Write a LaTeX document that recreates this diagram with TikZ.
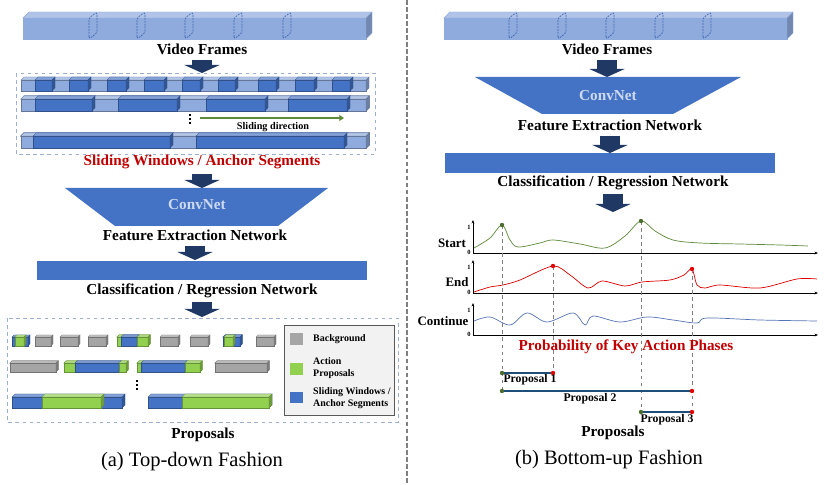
\documentclass[tikz,border=0pt]{standalone}
\usepackage{fontspec}
\setmainfont{Liberation Serif}
\usetikzlibrary{positioning,arrows.meta,calc}

\definecolor{lblue}{HTML}{8FAADC}
\definecolor{mblue}{HTML}{4472C4}
\definecolor{navy}{HTML}{203864}
\definecolor{pgreen}{HTML}{92D050}
\definecolor{pgray}{HTML}{A5A5A5}
\definecolor{dred}{HTML}{C00000}
\definecolor{boxline}{HTML}{9DB0D3}
\definecolor{sgreen}{HTML}{5E8A3A}
\definecolor{cblue}{HTML}{5574B4}
\definecolor{pline}{HTML}{1F4E79}

% box in 3D: x1 y1 x2 y2 colour depth
\newcommand{\blk}[6]{%
  \filldraw[fill=#5,draw=#5!70!black,line width=0.25pt] (#1,#2+#6) rectangle (#3-#6,#4);
  \filldraw[fill=#5!65!white,draw=#5!70!black,line width=0.25pt] (#1,#2+#6) -- (#1+#6,#2) -- (#3,#2) -- (#3-#6,#2+#6) -- cycle;
  \filldraw[fill=#5!75!black,draw=#5!70!black,line width=0.25pt] (#3-#6,#2+#6) -- (#3,#2) -- (#3,#4-#6) -- (#3-#6,#4) -- cycle;
}
% video frame bar with frame marks
\newcommand{\vbar}[2]{% x offset, list of frame centres
  \filldraw[fill=lblue,draw=lblue] (#1+23,18) rectangle (#1+366,39);
  \filldraw[fill=lblue!70!white,draw=lblue] (#1+23,18) -- (#1+29,12) -- (#1+372,12) -- (#1+366,18) -- cycle;
  \filldraw[fill=lblue!80!black,draw=lblue] (#1+366,18) -- (#1+372,12) -- (#1+372,33) -- (#1+366,39) -- cycle;
  \foreach \fx in {#2}
    \draw[mblue!90!black,dashed,dash pattern=on 1.5pt off 1pt,line width=0.6pt,rounded corners=2] (#1+\fx-4,39) -- (#1+\fx-4,18) -- (#1+\fx+4,12) -- (#1+\fx+4,33) -- cycle;
}

\tikzset{
  lbl/.style={font=\fontsize{13}{15}\selectfont\bfseries, inner sep=0pt},
  plbl/.style={font=\fontsize{11}{13}\selectfont\bfseries, inner sep=0pt},
  caption/.style={font=\fontsize{17.5}{20}\selectfont, inner sep=0pt},
  small/.style={font=\fontsize{8.5}{10.2}\selectfont\bfseries, inner sep=0pt, align=left},
  plabel/.style={font=\fontsize{10}{12}\selectfont\bfseries, inner sep=0pt},
  tick/.style={font=\fontsize{5.5}{6}\selectfont\bfseries, inner sep=0pt},
  bigarrow/.style={navy, line width=0.6cm, -{Triangle[length=0.24cm,width=1.05cm]}, shorten <=2.5pt},
  dashbox/.style={boxline, dashed, line width=0.6pt},
  axis/.style={black, line width=0.5pt, -{Stealth[length=3pt,width=2.4pt]}},
  guide/.style={gray, dashed, line width=0.4pt},
  propline/.style={pline, line width=1.6pt},
}

\begin{document}
\begin{tikzpicture}[x=0.03cm, y=-0.03cm]
\useasboundingbox (0,0) rectangle (830,485);

% divider
\draw[gray, dashed, line width=1.2pt, dash pattern=on 4pt off 2pt] (407,0) -- (407,485);

%%%%%%%%%% (a) top-down %%%%%%%%%%
\vbar{0}{93,141,189,238,287}
\node[lbl] (vfL) at (202,49) {Video Frames};
\coordinate (swTop) at (199,73);
\draw[bigarrow] ([yshift=-2pt]vfL.south) -- (vfL.south |- swTop);

\draw[dashbox] (16,73) rectangle (375,154);
\blk{21}{77}{369}{91}{lblue}{3}
\foreach \a/\b in {35/55,69/91,107/129,144/167,182/203,218/238,258/279,295/317,332/353}
  \blk{\a}{77}{\b}{91}{mblue}{3}
\blk{21}{96}{369}{111}{lblue}{3}
\foreach \a/\b in {35/95,118/180,206/268,288/350}
  \blk{\a}{96}{\b}{111}{mblue}{3}
\blk{21}{133}{369}{148}{lblue}{3}
\foreach \a/\b in {33/173,196/347}
  \blk{\a}{133}{\b}{148}{mblue}{3}
\foreach \d in {115,119,123} \fill (190,\d) circle (0.9);
\coordinate (slA) at (200,118);
\coordinate (slB) at (344,118);
\draw[sgreen, line width=1.3pt, -{Triangle[length=4pt,width=5pt]}] (slA) -- (slB);
\node[font=\fontsize{8.7}{10}\selectfont\bfseries, inner sep=0pt] (sldir) at (273,127) {Sliding direction};

\node[lbl, dred] (swL) at (202,162) {Sliding Windows / Anchor Segments};
\coordinate (convLtop) at (199,188);
\draw[bigarrow] ([yshift=-2pt]swL.south) -- (swL.south |- convLtop);

\fill[mblue] (65,188) -- (328,188) -- (278,226) -- (115,226) -- cycle;
\node[lbl, text=lblue!45!white] (convL) at (197,205) {ConvNet};
\node[lbl] (fenL) at (195,235) {Feature Extraction Network};
\coordinate (clsLtop) at (199,260);
\draw[bigarrow] ([yshift=-2pt]fenL.south) -- (fenL.south |- clsLtop);
\fill[mblue] (37,261) rectangle (367,280);
\node[lbl] (crnL) at (202,291) {Classification / Regression Network};
\coordinate (propLtop) at (199,317);
\draw[bigarrow] ([yshift=-1pt]crnL.south) -- (crnL.south |- propLtop);

\draw[dashbox] (7,318) rectangle (398,422);
% proposals, row 1
\blk{12}{335}{30}{346}{mblue}{2}
\blk{15}{335}{26}{346}{pgreen}{2}
\foreach \a/\b in {35/53,60/80,88/108,160/180,190/210,256/276}
  \blk{\a}{335}{\b}{346}{pgray}{2}
\blk{117}{335}{124}{346}{pgreen}{2}
\blk{121}{335}{139}{346}{mblue}{2}
\blk{137}{335}{150}{346}{pgreen}{2}
\blk{223}{335}{242}{346}{mblue}{2}
\blk{224}{335}{235}{346}{pgreen}{2}
% row 2
\blk{10}{361}{58}{372}{pgray}{2}
\blk{64}{361}{77}{372}{pgreen}{2}
\blk{75}{361}{121}{372}{mblue}{2}
\blk{119}{361}{128}{372}{pgreen}{2}
\blk{137}{361}{143}{372}{pgreen}{2}
\blk{141}{361}{187}{372}{mblue}{2}
\blk{185}{361}{202}{372}{pgreen}{2}
\blk{215}{361}{269}{372}{pgray}{2}
\foreach \d in {381,385,389} \fill (137,\d) circle (0.9);
% row 3
\blk{12}{394}{125}{408}{mblue}{3}
\blk{42}{394}{104}{408}{pgreen}{3}
\blk{148}{394}{272}{408}{mblue}{3}
\blk{182}{394}{272}{408}{pgreen}{3}

% legend
\filldraw[fill=black!5, draw=black!65, line width=0.8pt] (284,325) rectangle (394,415);
\fill[pgray] (290,333) rectangle (303,345);
\fill[pgreen] (290,363) rectangle (303,375);
\fill[mblue] (290,392) rectangle (303,403);
\node[small, anchor=west] (lgBg) at (313,339) {Background};
\node[small, anchor=west] (lgAp) at (313,368) {Action\\Proposals};
\node[small, anchor=west] (lgSw) at (313,398) {Sliding Windows /\\Anchor Segments};

\node[lbl] (propL) at (203,435) {Proposals};
\node[caption] (capA) at (192,462) {(a) Top-down Fashion};

%%%%%%%%%% (b) bottom-up %%%%%%%%%%
\vbar{421}{92,141,189,238,286}
\node[lbl] (vfR) at (607,49) {Video Frames};
\coordinate (convRtop) at (603,77);
\draw[bigarrow] ([yshift=-2pt]vfR.south) -- (vfR.south |- convRtop);
\fill[mblue] (475,77) -- (741,77) -- (673,114) -- (542,114) -- cycle;
\node[lbl, text=lblue!45!white] (convR) at (608,96) {ConvNet};
\node[lbl] (fenR) at (610,125) {Feature Extraction Network};
\coordinate (clsRtop) at (603,153);
\draw[bigarrow] ([yshift=-2pt]fenR.south) -- (fenR.south |- clsRtop);
\fill[mblue] (445,153) rectangle (775,173);
\node[lbl] (crnR) at (613,183) {Classification / Regression Network};
\coordinate (plotTop) at (603,212);
\draw[bigarrow] ([yshift=-1pt]crnR.south) -- (crnR.south |- plotTop);

% axes
\foreach \yb/\yt in {253/220,293/260,335/303} {
  \draw[axis] (473,\yb) -- (818,\yb);
  \draw[axis] (473,\yb) -- (473,\yt);
  \node[tick] at (469,\yt+7) {1};
  \node[tick] at (469,\yb-1) {0};
}
\node[plbl] (lStart) at (452,243) {Start};
\node[plbl] (lEnd) at (457,282) {End};
\node[plbl] (lCont) at (443,321) {Continue};

% curves
\draw[sgreen, line width=0.6pt] plot[smooth, tension=0.55] coordinates {(474,248) (490,238) (502,225) (510,240) (518,247) (540,243) (553,240) (580,244) (605,248) (625,236) (641,221) (655,231) (673,240) (700,243) (740,244) (780,245) (808,246)};
\draw[red!85!black, line width=0.6pt] plot[smooth, tension=0.5] coordinates {(474,292) (490,287) (503,285) (520,280) (553,266) (570,275) (588,288) (602,281) (625,286) (642,282) (670,280) (684,275) (692,269) (697,285) (705,288) (720,285) (760,288) (797,279) (817,279)};
\draw[cblue, line width=0.6pt] plot[smooth, tension=0.55] coordinates {(474,321) (490,317) (510,325) (527,313) (547,322) (573,313) (585,325) (593,316) (620,322) (647,317) (673,320) (697,323) (707,318) (760,320) (817,321)};

% peaks and proposals
\coordinate (s1) at (502,225);
\coordinate (s2) at (641,221);
\coordinate (e1) at (553,266);
\coordinate (e2) at (692,269);
\coordinate (p1a) at (502,373);
\coordinate (p1b) at (553,373);
\coordinate (p2a) at (502,391);
\coordinate (p2b) at (692,391);
\coordinate (p3a) at (641,412);
\coordinate (p3b) at (692,412);
\draw[guide] (s1) -- (p2a);
\draw[guide] (e1) -- (p1b);
\draw[guide] (s2) -- (p3a);
\draw[guide] (e2) -- (p3b);

\node[lbl, dred] (prob) at (626,347) {Probability of Key Action Phases};

\draw[propline] (p1a) -- (p1b);
\draw[propline] (p2a) -- (p2b);
\draw[propline] (p3a) -- (p3b);
\foreach \c in {s1,s2,p1a,p2a,p3a} \fill[sgreen!80!black] (\c) circle (2.2);
\foreach \c in {e1,e2,p1b,p2b,p3b} \fill[red!90!black] (\c) circle (2.2);

\node[plabel] (prop1) at (530,380) {Proposal 1};
\node[plabel] (prop2) at (590,399) {Proposal 2};
\node[plabel] (prop3) at (667,420) {Proposal 3};

\node[lbl] (propR) at (613,433) {Proposals};
\node[caption] (capB) at (609,460) {(b) Bottom-up Fashion};
\end{tikzpicture}
\end{document}
